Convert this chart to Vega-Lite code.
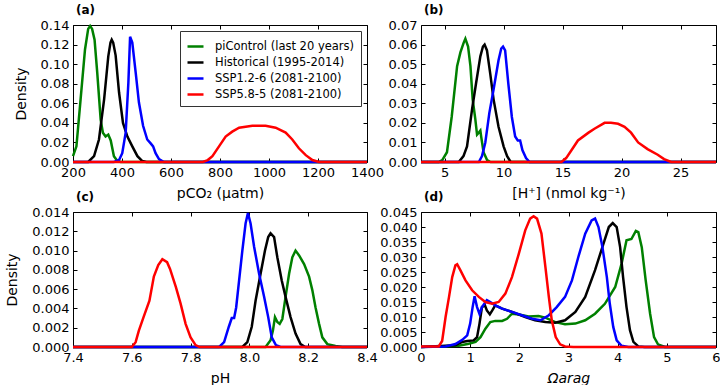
{
"$schema": "https://vega.github.io/schema/vega-lite/v6.json",
"padding": {"left": 5, "top": 3, "right": 0, "bottom": 0},
"config": {
  "font": "DejaVu Sans",
  "view": {"stroke": "#000", "strokeWidth": 1},
  "axis": {"labelFontSize": 13, "titleFontSize": 14, "titleFontWeight": "normal", "labelColor": "#000", "titleColor": "#000", "tickColor": "#000", "domain": false, "grid": false, "tickSize": -4, "labelPadding": 8, "labelFlush": false, "labelOverlap": false},
  "axisY": {"titlePadding": 12},
  "axisX": {"titlePadding": 7},
  "title": {"fontSize": 12, "fontWeight": "bold", "anchor": "start", "frame": "group", "offset": 2, "color": "#000", "dx": 3},
  "line": {"strokeWidth": 2.5, "clip": true}
},
"datasets": {
"a": [
{"s":"pi","x":200,"y":0.006},{"s":"pi","x":214,"y":0.016},{"s":"pi","x":231,"y":0.064},{"s":"pi","x":249,"y":0.115},{"s":"pi","x":262,"y":0.136},{"s":"pi","x":270,"y":0.139},{"s":"pi","x":278,"y":0.136},{"s":"pi","x":288,"y":0.125},{"s":"pi","x":299,"y":0.091},{"s":"pi","x":313,"y":0.043},{"s":"pi","x":322,"y":0.030},{"s":"pi","x":333,"y":0.026},{"s":"pi","x":344,"y":0.028},{"s":"pi","x":354,"y":0.022},{"s":"pi","x":367,"y":0.006},{"s":"pi","x":381,"y":0.001},{"s":"pi","x":395,"y":0},{"s":"pi","x":1400,"y":0},
{"s":"hist","x":200,"y":0},{"s":"hist","x":262,"y":0},{"s":"hist","x":286,"y":0.006},{"s":"hist","x":306,"y":0.023},{"s":"hist","x":327,"y":0.064},{"s":"hist","x":344,"y":0.108},{"s":"hist","x":353,"y":0.122},{"s":"hist","x":358,"y":0.125},{"s":"hist","x":364,"y":0.122},{"s":"hist","x":374,"y":0.109},{"s":"hist","x":388,"y":0.071},{"s":"hist","x":404,"y":0.040},{"s":"hist","x":422,"y":0.026},{"s":"hist","x":442,"y":0.016},{"s":"hist","x":463,"y":0.006},{"s":"hist","x":483,"y":0.001},{"s":"hist","x":500,"y":0},{"s":"hist","x":1400,"y":0},
{"s":"ssp126","x":200,"y":0},{"s":"ssp126","x":367,"y":0},{"s":"ssp126","x":388,"y":0.002},{"s":"ssp126","x":401,"y":0.009},{"s":"ssp126","x":415,"y":0.030},{"s":"ssp126","x":426,"y":0.081},{"s":"ssp126","x":433,"y":0.128},{"s":"ssp126","x":442,"y":0.122},{"s":"ssp126","x":456,"y":0.091},{"s":"ssp126","x":469,"y":0.061},{"s":"ssp126","x":486,"y":0.037},{"s":"ssp126","x":503,"y":0.023},{"s":"ssp126","x":517,"y":0.019},{"s":"ssp126","x":527,"y":0.016},{"s":"ssp126","x":537,"y":0.009},{"s":"ssp126","x":551,"y":0.003},{"s":"ssp126","x":571,"y":0},{"s":"ssp126","x":1400,"y":0},
{"s":"ssp585","x":200,"y":0},{"s":"ssp585","x":730,"y":0},{"s":"ssp585","x":750,"y":0.002},{"s":"ssp585","x":769,"y":0.006},{"s":"ssp585","x":796,"y":0.016},{"s":"ssp585","x":823,"y":0.026},{"s":"ssp585","x":850,"y":0.031},{"s":"ssp585","x":878,"y":0.035},{"s":"ssp585","x":932,"y":0.037},{"s":"ssp585","x":986,"y":0.037},{"s":"ssp585","x":1027,"y":0.035},{"s":"ssp585","x":1068,"y":0.030},{"s":"ssp585","x":1095,"y":0.023},{"s":"ssp585","x":1122,"y":0.014},{"s":"ssp585","x":1150,"y":0.007},{"s":"ssp585","x":1177,"y":0.002},{"s":"ssp585","x":1204,"y":0},{"s":"ssp585","x":1400,"y":0}
],
"b": [
{"s":"pi","x":3,"y":0},{"s":"pi","x":4.5,"y":0},{"s":"pi","x":4.8,"y":0.001},{"s":"pi","x":5.2,"y":0.005},{"s":"pi","x":5.6,"y":0.023},{"s":"pi","x":6.06,"y":0.049},{"s":"pi","x":6.34,"y":0.056},{"s":"pi","x":6.62,"y":0.061},{"s":"pi","x":6.76,"y":0.063},{"s":"pi","x":6.99,"y":0.059},{"s":"pi","x":7.19,"y":0.049},{"s":"pi","x":7.38,"y":0.032},{"s":"pi","x":7.6,"y":0.022},{"s":"pi","x":7.75,"y":0.014},{"s":"pi","x":7.9,"y":0.015},{"s":"pi","x":8.03,"y":0.016},{"s":"pi","x":8.1,"y":0.013},{"s":"pi","x":8.3,"y":0.005},{"s":"pi","x":8.6,"y":0.001},{"s":"pi","x":8.9,"y":0},{"s":"pi","x":28,"y":0},
{"s":"hist","x":3,"y":0},{"s":"hist","x":6.2,"y":0},{"s":"hist","x":6.6,"y":0.003},{"s":"hist","x":6.9,"y":0.008},{"s":"hist","x":7.33,"y":0.027},{"s":"hist","x":7.66,"y":0.040},{"s":"hist","x":8.03,"y":0.054},{"s":"hist","x":8.25,"y":0.059},{"s":"hist","x":8.39,"y":0.060},{"s":"hist","x":8.59,"y":0.057},{"s":"hist","x":8.87,"y":0.045},{"s":"hist","x":9.15,"y":0.032},{"s":"hist","x":9.57,"y":0.018},{"s":"hist","x":10.0,"y":0.008},{"s":"hist","x":10.3,"y":0.003},{"s":"hist","x":10.6,"y":0},{"s":"hist","x":28,"y":0},
{"s":"ssp126","x":3,"y":0},{"s":"ssp126","x":7.9,"y":0},{"s":"ssp126","x":8.17,"y":0.003},{"s":"ssp126","x":8.45,"y":0.010},{"s":"ssp126","x":8.79,"y":0.025},{"s":"ssp126","x":9.15,"y":0.037},{"s":"ssp126","x":9.57,"y":0.052},{"s":"ssp126","x":9.8,"y":0.058},{"s":"ssp126","x":9.95,"y":0.059},{"s":"ssp126","x":10.13,"y":0.057},{"s":"ssp126","x":10.4,"y":0.040},{"s":"ssp126","x":10.7,"y":0.023},{"s":"ssp126","x":10.98,"y":0.013},{"s":"ssp126","x":11.2,"y":0.011},{"s":"ssp126","x":11.4,"y":0.011},{"s":"ssp126","x":11.6,"y":0.006},{"s":"ssp126","x":11.9,"y":0.002},{"s":"ssp126","x":12.2,"y":0},{"s":"ssp126","x":28,"y":0},
{"s":"ssp585","x":3,"y":0},{"s":"ssp585","x":14.9,"y":0},{"s":"ssp585","x":15.3,"y":0.002},{"s":"ssp585","x":15.75,"y":0.006},{"s":"ssp585","x":16.3,"y":0.011},{"s":"ssp585","x":17.2,"y":0.015},{"s":"ssp585","x":17.7,"y":0.017},{"s":"ssp585","x":18.56,"y":0.020},{"s":"ssp585","x":19.1,"y":0.020},{"s":"ssp585","x":19.7,"y":0.0195},{"s":"ssp585","x":20.25,"y":0.018},{"s":"ssp585","x":20.8,"y":0.015},{"s":"ssp585","x":21.4,"y":0.010},{"s":"ssp585","x":22.2,"y":0.0066},{"s":"ssp585","x":23.06,"y":0.0037},{"s":"ssp585","x":23.6,"y":0.0015},{"s":"ssp585","x":24.2,"y":0},{"s":"ssp585","x":28,"y":0}
],
"c": [
{"s":"pi","x":7.4,"y":0},{"s":"pi","x":8.055,"y":0},{"s":"pi","x":8.072,"y":0.0007},{"s":"pi","x":8.08,"y":0.0017},{"s":"pi","x":8.087,"y":0.0031},{"s":"pi","x":8.095,"y":0.0026},{"s":"pi","x":8.103,"y":0.0024},{"s":"pi","x":8.112,"y":0.0029},{"s":"pi","x":8.123,"y":0.0052},{"s":"pi","x":8.135,"y":0.0076},{"s":"pi","x":8.146,"y":0.0093},{"s":"pi","x":8.157,"y":0.0100},{"s":"pi","x":8.169,"y":0.0095},{"s":"pi","x":8.186,"y":0.0086},{"s":"pi","x":8.203,"y":0.0073},{"s":"pi","x":8.214,"y":0.0059},{"s":"pi","x":8.225,"y":0.0041},{"s":"pi","x":8.237,"y":0.0024},{"s":"pi","x":8.248,"y":0.001},{"s":"pi","x":8.265,"y":0.0003},{"s":"pi","x":8.293,"y":0.0001},{"s":"pi","x":8.316,"y":0},{"s":"pi","x":8.4,"y":0},
{"s":"hist","x":7.4,"y":0},{"s":"hist","x":7.976,"y":0},{"s":"hist","x":7.993,"y":0.0005},{"s":"hist","x":8.008,"y":0.0021},{"s":"hist","x":8.021,"y":0.0048},{"s":"hist","x":8.038,"y":0.0076},{"s":"hist","x":8.053,"y":0.010},{"s":"hist","x":8.064,"y":0.0114},{"s":"hist","x":8.072,"y":0.0118},{"s":"hist","x":8.084,"y":0.0114},{"s":"hist","x":8.095,"y":0.0093},{"s":"hist","x":8.11,"y":0.0069},{"s":"hist","x":8.123,"y":0.0052},{"s":"hist","x":8.14,"y":0.0031},{"s":"hist","x":8.157,"y":0.0014},{"s":"hist","x":8.174,"y":0.0003},{"s":"hist","x":8.19,"y":0},{"s":"hist","x":8.4,"y":0},
{"s":"ssp126","x":7.4,"y":0},{"s":"ssp126","x":7.897,"y":0},{"s":"ssp126","x":7.914,"y":0.0005},{"s":"ssp126","x":7.93,"y":0.0021},{"s":"ssp126","x":7.94,"y":0.003},{"s":"ssp126","x":7.948,"y":0.003},{"s":"ssp126","x":7.955,"y":0.0041},{"s":"ssp126","x":7.965,"y":0.0069},{"s":"ssp126","x":7.976,"y":0.010},{"s":"ssp126","x":7.987,"y":0.0128},{"s":"ssp126","x":7.995,"y":0.0139},{"s":"ssp126","x":8.004,"y":0.0128},{"s":"ssp126","x":8.016,"y":0.0104},{"s":"ssp126","x":8.033,"y":0.0076},{"s":"ssp126","x":8.05,"y":0.0052},{"s":"ssp126","x":8.064,"y":0.0031},{"s":"ssp126","x":8.076,"y":0.001},{"s":"ssp126","x":8.09,"y":0.0002},{"s":"ssp126","x":8.106,"y":0},{"s":"ssp126","x":8.4,"y":0},
{"s":"ssp585","x":7.4,"y":0},{"s":"ssp585","x":7.6,"y":0},{"s":"ssp585","x":7.613,"y":0.0005},{"s":"ssp585","x":7.624,"y":0.0017},{"s":"ssp585","x":7.64,"y":0.0031},{"s":"ssp585","x":7.66,"y":0.0048},{"s":"ssp585","x":7.675,"y":0.0073},{"s":"ssp585","x":7.69,"y":0.0085},{"s":"ssp585","x":7.704,"y":0.0091},{"s":"ssp585","x":7.72,"y":0.0088},{"s":"ssp585","x":7.73,"y":0.0081},{"s":"ssp585","x":7.75,"y":0.0062},{"s":"ssp585","x":7.766,"y":0.0045},{"s":"ssp585","x":7.783,"y":0.0024},{"s":"ssp585","x":7.8,"y":0.001},{"s":"ssp585","x":7.817,"y":0.0002},{"s":"ssp585","x":7.83,"y":0},{"s":"ssp585","x":8.4,"y":0}
],
"d": [
{"s":"pi","x":0,"y":0},{"s":"pi","x":0.77,"y":0.0004},{"s":"pi","x":0.97,"y":0.0011},{"s":"pi","x":1.11,"y":0.0017},{"s":"pi","x":1.21,"y":0.0033},{"s":"pi","x":1.31,"y":0.0061},{"s":"pi","x":1.41,"y":0.0083},{"s":"pi","x":1.51,"y":0.0087},{"s":"pi","x":1.65,"y":0.0087},{"s":"pi","x":1.75,"y":0.0094},{"s":"pi","x":1.85,"y":0.0111},{"s":"pi","x":1.99,"y":0.0108},{"s":"pi","x":2.19,"y":0.0102},{"s":"pi","x":2.39,"y":0.0103},{"s":"pi","x":2.53,"y":0.0098},{"s":"pi","x":2.73,"y":0.0083},{"s":"pi","x":2.93,"y":0.0076},{"s":"pi","x":3.14,"y":0.0078},{"s":"pi","x":3.34,"y":0.0089},{"s":"pi","x":3.54,"y":0.0111},{"s":"pi","x":3.74,"y":0.0144},{"s":"pi","x":3.95,"y":0.02},{"s":"pi","x":4.08,"y":0.0278},{"s":"pi","x":4.18,"y":0.0356},{"s":"pi","x":4.28,"y":0.036},{"s":"pi","x":4.37,"y":0.0387},{"s":"pi","x":4.42,"y":0.0383},{"s":"pi","x":4.49,"y":0.0333},{"s":"pi","x":4.57,"y":0.0222},{"s":"pi","x":4.66,"y":0.0111},{"s":"pi","x":4.74,"y":0.0033},{"s":"pi","x":4.82,"y":0.0009},{"s":"pi","x":4.96,"y":0},{"s":"pi","x":6,"y":0},
{"s":"hist","x":0,"y":0},{"s":"hist","x":0.7,"y":0.0006},{"s":"hist","x":0.84,"y":0.0017},{"s":"hist","x":0.94,"y":0.002},{"s":"hist","x":1.07,"y":0.0022},{"s":"hist","x":1.14,"y":0.0033},{"s":"hist","x":1.19,"y":0.0078},{"s":"hist","x":1.24,"y":0.0133},{"s":"hist","x":1.3,"y":0.0139},{"s":"hist","x":1.34,"y":0.0122},{"s":"hist","x":1.4,"y":0.0109},{"s":"hist","x":1.45,"y":0.0122},{"s":"hist","x":1.51,"y":0.0139},{"s":"hist","x":1.65,"y":0.0128},{"s":"hist","x":1.85,"y":0.0117},{"s":"hist","x":2.12,"y":0.01},{"s":"hist","x":2.32,"y":0.0089},{"s":"hist","x":2.53,"y":0.0083},{"s":"hist","x":2.73,"y":0.0081},{"s":"hist","x":2.93,"y":0.0089},{"s":"hist","x":3.14,"y":0.0117},{"s":"hist","x":3.34,"y":0.0167},{"s":"hist","x":3.54,"y":0.0256},{"s":"hist","x":3.71,"y":0.0344},{"s":"hist","x":3.82,"y":0.04},{"s":"hist","x":3.9,"y":0.0413},{"s":"hist","x":3.98,"y":0.04},{"s":"hist","x":4.05,"y":0.0333},{"s":"hist","x":4.11,"y":0.0233},{"s":"hist","x":4.18,"y":0.0133},{"s":"hist","x":4.25,"y":0.0056},{"s":"hist","x":4.32,"y":0.0017},{"s":"hist","x":4.42,"y":0.0002},{"s":"hist","x":4.55,"y":0},{"s":"hist","x":6,"y":0},
{"s":"ssp126","x":0,"y":0},{"s":"ssp126","x":0.5,"y":0.0002},{"s":"ssp126","x":0.7,"y":0.001},{"s":"ssp126","x":0.84,"y":0.0024},{"s":"ssp126","x":0.94,"y":0.0039},{"s":"ssp126","x":1.0,"y":0.0078},{"s":"ssp126","x":1.05,"y":0.0133},{"s":"ssp126","x":1.09,"y":0.0169},{"s":"ssp126","x":1.14,"y":0.0133},{"s":"ssp126","x":1.19,"y":0.011},{"s":"ssp126","x":1.24,"y":0.0133},{"s":"ssp126","x":1.34,"y":0.0156},{"s":"ssp126","x":1.41,"y":0.015},{"s":"ssp126","x":1.51,"y":0.0139},{"s":"ssp126","x":1.65,"y":0.0128},{"s":"ssp126","x":1.85,"y":0.0117},{"s":"ssp126","x":2.05,"y":0.0106},{"s":"ssp126","x":2.26,"y":0.0094},{"s":"ssp126","x":2.43,"y":0.0089},{"s":"ssp126","x":2.6,"y":0.0106},{"s":"ssp126","x":2.76,"y":0.0133},{"s":"ssp126","x":2.93,"y":0.0167},{"s":"ssp126","x":3.07,"y":0.0222},{"s":"ssp126","x":3.2,"y":0.03},{"s":"ssp126","x":3.34,"y":0.0378},{"s":"ssp126","x":3.47,"y":0.0422},{"s":"ssp126","x":3.54,"y":0.0428},{"s":"ssp126","x":3.61,"y":0.04},{"s":"ssp126","x":3.69,"y":0.0333},{"s":"ssp126","x":3.78,"y":0.0233},{"s":"ssp126","x":3.84,"y":0.0144},{"s":"ssp126","x":3.91,"y":0.0067},{"s":"ssp126","x":3.98,"y":0.0022},{"s":"ssp126","x":4.08,"y":0.0004},{"s":"ssp126","x":4.22,"y":0},{"s":"ssp126","x":6,"y":0},
{"s":"ssp585","x":0,"y":0.0002},{"s":"ssp585","x":0.36,"y":0.0002},{"s":"ssp585","x":0.43,"y":0.002},{"s":"ssp585","x":0.5,"y":0.010},{"s":"ssp585","x":0.57,"y":0.0167},{"s":"ssp585","x":0.635,"y":0.0233},{"s":"ssp585","x":0.70,"y":0.0272},{"s":"ssp585","x":0.736,"y":0.0276},{"s":"ssp585","x":0.80,"y":0.0256},{"s":"ssp585","x":0.905,"y":0.0222},{"s":"ssp585","x":1.04,"y":0.0189},{"s":"ssp585","x":1.176,"y":0.0167},{"s":"ssp585","x":1.31,"y":0.015},{"s":"ssp585","x":1.446,"y":0.0144},{"s":"ssp585","x":1.58,"y":0.015},{"s":"ssp585","x":1.716,"y":0.0178},{"s":"ssp585","x":1.85,"y":0.0233},{"s":"ssp585","x":1.99,"y":0.0311},{"s":"ssp585","x":2.12,"y":0.0389},{"s":"ssp585","x":2.22,"y":0.0428},{"s":"ssp585","x":2.29,"y":0.0436},{"s":"ssp585","x":2.36,"y":0.0428},{"s":"ssp585","x":2.45,"y":0.0378},{"s":"ssp585","x":2.53,"y":0.0267},{"s":"ssp585","x":2.6,"y":0.0167},{"s":"ssp585","x":2.66,"y":0.0089},{"s":"ssp585","x":2.74,"y":0.0033},{"s":"ssp585","x":2.83,"y":0.0009},{"s":"ssp585","x":2.93,"y":0.0002},{"s":"ssp585","x":3.1,"y":0},{"s":"ssp585","x":6,"y":0}
]
},
"columns": 2,
"bounds": "flush",
"spacing": {"row": 50, "column": 54},
"resolve": {"scale": {"color": "independent"}, "legend": {"color": "independent"}},
"concat": [
{
 "width": 294, "height": 137,
 "title": {"text": "(a)"},
 "data": {"name": "a"},
 "layer": [
  {"mark": {"type": "line"},
   "encoding": {
    "x": {"field": "x", "type": "quantitative", "scale": {"domain": [200, 1400], "nice": false, "zero": false}, "axis": {"title": "pCO₂ (µatm)", "values": [200, 400, 600, 800, 1000, 1200, 1400], "format": "d"}},
    "y": {"field": "y", "type": "quantitative", "scale": {"domain": [0, 0.14], "nice": false}, "axis": {"title": "Density", "values": [0, 0.02, 0.04, 0.06, 0.08, 0.10, 0.12, 0.14], "format": ".2f"}},
    "color": {"field": "s", "type": "nominal", "scale": {"domain": ["pi", "hist", "ssp126", "ssp585"], "range": ["#008000", "#000000", "#0000ff", "#ff0000"]},
     "legend": {"title": null, "orient": "top-right", "offset": 6, "padding": 6, "strokeColor": "#333", "fillColor": "#fff", "symbolType": "stroke", "symbolStrokeWidth": 3, "symbolSize": 256, "labelFontSize": 11.5, "labelColor": "#000", "rowPadding": 1, "labelOffset": 10,
      "labelExpr": "datum.label == 'pi' ? 'piControl (last 20 years)' : datum.label == 'hist' ? 'Historical (1995-2014)' : datum.label == 'ssp126' ? 'SSP1.2-6 (2081-2100)' : 'SSP5.8-5 (2081-2100)'"}}
   }},
  {"mark": {"type": "line", "strokeOpacity": 0},
   "encoding": {
    "x": {"field": "x", "type": "quantitative", "axis": {"orient": "top", "labels": false, "title": null, "labelPadding": 0, "values": [200, 400, 600, 800, 1000, 1200, 1400]}},
    "y": {"field": "y", "type": "quantitative", "axis": {"orient": "right", "labels": false, "title": null, "labelPadding": 0, "values": [0, 0.02, 0.04, 0.06, 0.08, 0.10, 0.12, 0.14]}}
   }}
 ],
 "resolve": {"axis": {"x": "independent", "y": "independent"}}
},
{
 "width": 295, "height": 137,
 "title": {"text": "(b)"},
 "data": {"name": "b"},
 "layer": [
  {"mark": {"type": "line"},
   "encoding": {
    "x": {"field": "x", "type": "quantitative", "scale": {"domain": [3, 28], "nice": false, "zero": false}, "axis": {"title": "[H⁺] (nmol kg⁻¹)", "values": [5, 10, 15, 20, 25], "format": "d"}},
    "y": {"field": "y", "type": "quantitative", "scale": {"domain": [0, 0.07], "nice": false}, "axis": {"title": null, "values": [0, 0.01, 0.02, 0.03, 0.04, 0.05, 0.06, 0.07], "format": ".2f"}},
    "color": {"field": "s", "type": "nominal", "scale": {"domain": ["pi", "hist", "ssp126", "ssp585"], "range": ["#008000", "#000000", "#0000ff", "#ff0000"]}, "legend": null}
   }},
  {"mark": {"type": "line", "strokeOpacity": 0},
   "encoding": {
    "x": {"field": "x", "type": "quantitative", "axis": {"orient": "top", "labels": false, "title": null, "labelPadding": 0, "values": [5, 10, 15, 20, 25]}},
    "y": {"field": "y", "type": "quantitative", "axis": {"orient": "right", "labels": false, "title": null, "labelPadding": 0, "values": [0, 0.01, 0.02, 0.03, 0.04, 0.05, 0.06, 0.07]}}
   }}
 ],
 "resolve": {"axis": {"x": "independent", "y": "independent"}}
},
{
 "width": 294, "height": 135,
 "title": {"text": "(c)"},
 "data": {"name": "c"},
 "layer": [
  {"mark": {"type": "line"},
   "encoding": {
    "x": {"field": "x", "type": "quantitative", "scale": {"domain": [7.4, 8.4], "nice": false, "zero": false}, "axis": {"title": "pH", "values": [7.4, 7.6, 7.8, 8.0, 8.2, 8.4], "format": ".1f"}},
    "y": {"field": "y", "type": "quantitative", "scale": {"domain": [0, 0.014], "nice": false}, "axis": {"title": "Density", "values": [0, 0.002, 0.004, 0.006, 0.008, 0.010, 0.012, 0.014], "format": ".3f"}},
    "color": {"field": "s", "type": "nominal", "scale": {"domain": ["pi", "hist", "ssp126", "ssp585"], "range": ["#008000", "#000000", "#0000ff", "#ff0000"]}, "legend": null}
   }},
  {"mark": {"type": "line", "strokeOpacity": 0},
   "encoding": {
    "x": {"field": "x", "type": "quantitative", "axis": {"orient": "top", "labels": false, "title": null, "labelPadding": 0, "values": [7.4, 7.6, 7.8, 8.0, 8.2, 8.4]}},
    "y": {"field": "y", "type": "quantitative", "axis": {"orient": "right", "labels": false, "title": null, "labelPadding": 0, "values": [0, 0.002, 0.004, 0.006, 0.008, 0.010, 0.012, 0.014]}}
   }}
 ],
 "resolve": {"axis": {"x": "independent", "y": "independent"}}
},
{
 "width": 295, "height": 135,
 "title": {"text": "(d)"},
 "data": {"name": "d"},
 "layer": [
  {"mark": {"type": "line"},
   "encoding": {
    "x": {"field": "x", "type": "quantitative", "scale": {"domain": [0, 6], "nice": false, "zero": false}, "axis": {"title": "Ωarag", "titleFontStyle": "italic", "values": [0, 1, 2, 3, 4, 5, 6], "format": "d"}},
    "y": {"field": "y", "type": "quantitative", "scale": {"domain": [0, 0.045], "nice": false}, "axis": {"title": null, "values": [0, 0.005, 0.01, 0.015, 0.02, 0.025, 0.03, 0.035, 0.04, 0.045], "format": ".3f"}},
    "color": {"field": "s", "type": "nominal", "scale": {"domain": ["pi", "hist", "ssp126", "ssp585"], "range": ["#008000", "#000000", "#0000ff", "#ff0000"]}, "legend": null}
   }},
  {"mark": {"type": "line", "strokeOpacity": 0},
   "encoding": {
    "x": {"field": "x", "type": "quantitative", "axis": {"orient": "top", "labels": false, "title": null, "labelPadding": 0, "values": [0, 1, 2, 3, 4, 5, 6]}},
    "y": {"field": "y", "type": "quantitative", "axis": {"orient": "right", "labels": false, "title": null, "labelPadding": 0, "values": [0, 0.005, 0.01, 0.015, 0.02, 0.025, 0.03, 0.035, 0.04, 0.045]}}
   }}
 ],
 "resolve": {"axis": {"x": "independent", "y": "independent"}}
}
]
}
